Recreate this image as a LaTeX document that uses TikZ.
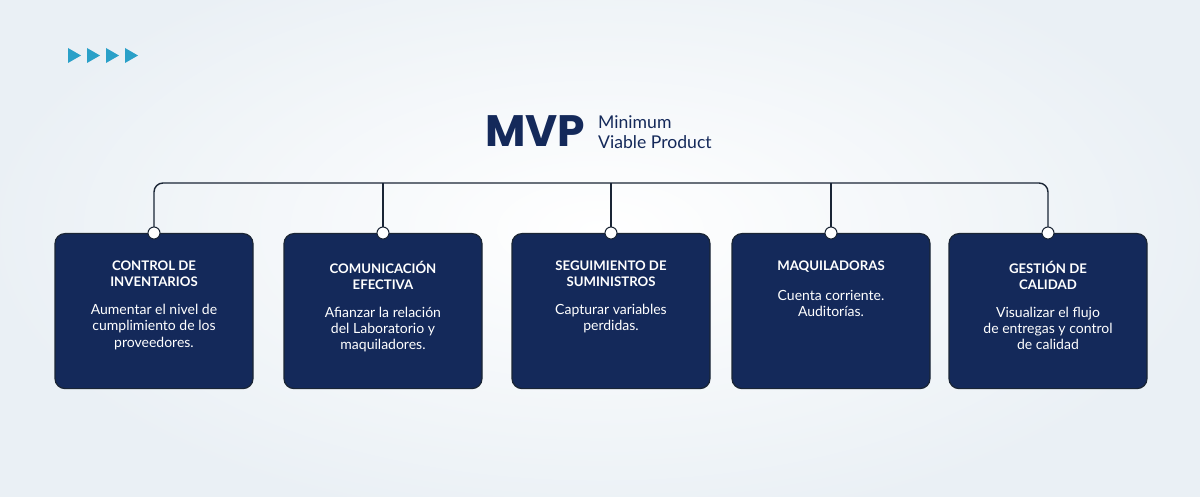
\documentclass[tikz,border=0pt]{standalone}
\usepackage{fontspec}
\setmainfont{Lato}
\newfontfamily\mvpfont{Poppins}
\usetikzlibrary{positioning}
\definecolor{navy}{HTML}{14295A}
\definecolor{bgc}{HTML}{EAF0F5}
\definecolor{tealc}{HTML}{2AA0C8}
\definecolor{linec}{HTML}{1A2535}
\tikzset{
  card/.style={fill=navy, draw=linec, line width=1.2pt, rounded corners=10pt, minimum width=198pt, minimum height=155pt, anchor=north},
  cardtitle/.style={text=white, font=\fontsize{13.2}{16}\selectfont\bfseries, align=center, anchor=north, inner sep=0pt},
  cardbody/.style={text=white, font=\fontsize{14}{16.2}\selectfont, align=center, anchor=north, inner sep=0pt},
  dot/.style={circle, fill=white, draw=linec, line width=1pt, minimum size=12pt, inner sep=0pt},
  conn/.style={draw=linec, line width=1.4pt},
  tri/.style={fill=tealc},
}
\begin{document}
\begin{tikzpicture}[x=1pt,y=-1pt]
\useasboundingbox (0,0) rectangle (1200,497);
\fill[bgc] (0,0) rectangle (1200,497);
% subtle background glow
\shade[inner color=white, outer color=bgc] (600,230) ellipse (620 and 300);
% arrows
\foreach \i in {0,1,2,3} {
  \fill[tri] (68+\i*19,48) -- (81+\i*19,55.5) -- (68+\i*19,63) -- cycle;
}
% title
\node[anchor=west, inner sep=0pt, text=navy, font=\mvpfont\fontsize{44}{44}\selectfont\bfseries] (mvp) at (485,131) {MVP};
\node[anchor=west, inner sep=0pt, text=navy, align=left, font=\fontsize{17.6}{19.5}\selectfont] (sub) at (598,132) {Minimum\\Viable Product};
% cards
\node[card] (c1) at (154,233) {};
\node[card] (c2) at (383,233) {};
\node[card] (c3) at (611,233) {};
\node[card] (c4) at (831,233) {};
\node[card] (c5) at (1048,233) {};
% connector
\coordinate (t1) at (154,183);
\coordinate (t5) at (1048,183);
\draw[conn, rounded corners=9pt] (c1.north) -- (t1) -- (t5) -- (c5.north);
\foreach \c/\x in {c2/383,c3/611,c4/831} {
  \draw[conn] (\c.north) -- (\x,183);
}
\foreach \c in {c1,c2,c3,c4,c5} { \node[dot] at (\c.north) {}; }
% texts
\node[cardtitle] (h1) at ([yshift=-28pt]c1.north) {CONTROL DE\\INVENTARIOS};
\node[cardbody] (b1) at ([yshift=-17pt]h1.south) {Aumentar el nivel de\\cumplimiento de los\\proveedores.};
\node[cardtitle] (h2) at ([yshift=-28pt]c2.north) {COMUNICACIÓN\\EFECTIVA};
\node[cardbody] (b2) at ([yshift=-17pt]h2.south) {Afianzar la relación\\del Laboratorio y\\maquiladores.};
\node[cardtitle] (h3) at ([yshift=-28pt]c3.north) {SEGUIMIENTO DE\\SUMINISTROS};
\node[cardbody] (b3) at ([yshift=-17pt]h3.south) {Capturar variables\\perdidas.};
\node[cardtitle] (h4) at ([yshift=-28pt]c4.north) {MAQUILADORAS};
\node[cardbody] (b4) at ([yshift=-17pt]h4.south) {Cuenta corriente.\\Auditorías.};
\node[cardtitle] (h5) at ([yshift=-28pt]c5.north) {GESTIÓN DE\\CALIDAD};
\node[cardbody] (b5) at ([yshift=-17pt]h5.south) {Visualizar el flujo\\de entregas y control\\de calidad};
\end{tikzpicture}
\end{document}
